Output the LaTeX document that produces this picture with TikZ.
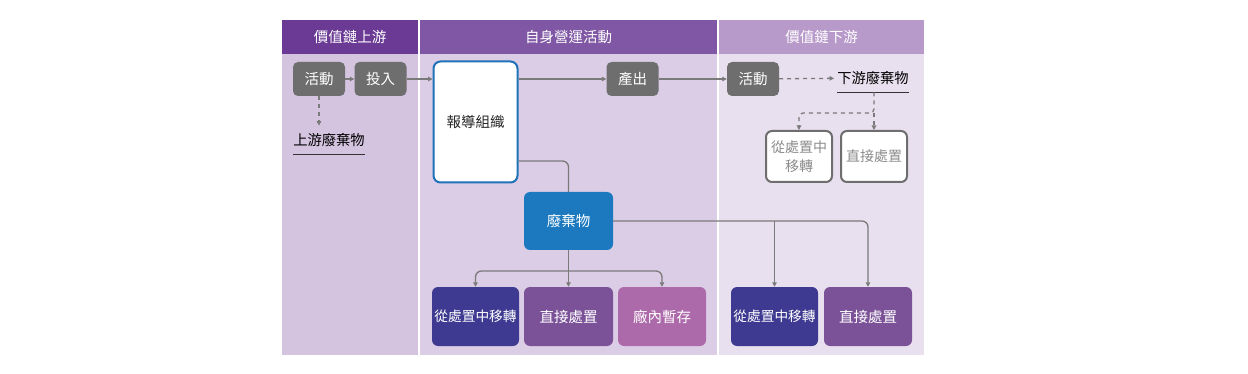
\documentclass[tikz,border=0pt]{standalone}
\usepackage{fontspec}
\setmainfont{Noto Sans CJK TC}
\usetikzlibrary{arrows.meta}
\definecolor{leftHead}{HTML}{6A3A95}
\definecolor{midHead}{HTML}{7F57A4}
\definecolor{rightHead}{HTML}{B89ACA}
\definecolor{leftBody}{HTML}{D4C4E0}
\definecolor{midBody}{HTML}{DBCDE5}
\definecolor{rightBody}{HTML}{E9E0EF}
\definecolor{boxGray}{HTML}{6E6E6E}
\definecolor{lineGray}{HTML}{7A7A7A}
\definecolor{outText}{HTML}{8C8C8C}
\definecolor{orgBlue}{HTML}{1F72B8}
\definecolor{wasteBlue}{HTML}{1C79BF}
\definecolor{transInd}{HTML}{3E3A91}
\definecolor{directPur}{HTML}{7B5298}
\definecolor{storePink}{HTML}{AD6AAA}

\begin{document}
\begin{tikzpicture}[x=1pt, y=-1pt,
    headtext/.style={text=white, font=\fontsize{14.5}{16}\selectfont},
    graybox/.style={fill=boxGray, text=white, rounded corners=5pt, minimum width=52pt, minimum height=34pt, inner sep=0pt, font=\fontsize{14.5}{16}\selectfont},
    outbox/.style={draw=boxGray, line width=2pt, fill=white, text=outText, rounded corners=6pt, minimum width=66pt, minimum height=51pt, inner sep=0pt, align=center, font=\fontsize{14}{19}\selectfont},
    solidbox/.style={rounded corners=6pt, text=white, minimum width=87pt, minimum height=59pt, inner sep=0pt, font=\fontsize{13.7}{16}\selectfont},
    wastetext/.style={inner xsep=0pt, inner ysep=7.5pt, font=\fontsize{14.3}{16}\selectfont},
    uline/.style={draw=black!80, line width=1.5pt},
    conn/.style={draw=lineGray, line width=1.3pt},
    arr/.style={conn, -{Triangle[length=4.5pt,width=4.5pt]}},
    dashline/.style={dash pattern=on 4pt off 4pt}]
    \useasboundingbox (0,0) rectangle (1248,374);

    \fill[leftBody] (282,54) rectangle (418,355);
    \fill[leftHead] (282,20) rectangle (418,54);
    \fill[midBody] (420,54) rectangle (717,355);
    \fill[midHead] (420,20) rectangle (717,54);
    \fill[rightBody] (719,54) rectangle (924,355);
    \fill[rightHead] (719,20) rectangle (924,54);

    \node[headtext] (hUp) at (350,37) {價值鏈上游};
    \node[headtext] (hOwn) at (568.5,37) {自身營運活動};
    \node[headtext] (hDown) at (821.5,37) {價值鏈下游};

    \node[graybox] (actUp) at (319,79) {活動};
    \node[graybox] (input) [right of=actUp, node distance=61.5pt] {投入};
    \node[wastetext] (upWaste) at (329,140) {上游廢棄物};

    \node[draw=orgBlue, line width=2pt, fill=white, text=black!85, rounded corners=7pt, minimum width=84pt, minimum height=121pt, font=\fontsize{14.5}{16}\selectfont] (org) at (475.5,122) {報導組織};
    \node[graybox] (output) at (632.5,79) {產出};
    \node[solidbox, fill=wasteBlue, minimum width=89pt, minimum height=58pt, font=\fontsize{14.5}{16}\selectfont] (waste) at (568.5,221) {廢棄物};
    \node[solidbox, fill=transInd] (ownTrans) at (475.5,316.5) {從處置中移轉};
    \node[solidbox, fill=directPur, minimum width=89pt, font=\fontsize{14.5}{16}\selectfont] (ownDirect) at (568.5,316.5) {直接處置};
    \node[solidbox, fill=storePink, minimum width=88pt, font=\fontsize{14.5}{16}\selectfont] (ownStore) at (662,316.5) {廠內暫存};

    \node[graybox] (actDown) at (753,79) {活動};
    \node[wastetext] (downWaste) at (873,78) {下游廢棄物};
    \node[outbox] (downTrans) at (799,156.5) {從處置中\\移轉};
    \node[outbox] (downDirect) at (874,156.5) {直接處置};
    \node[solidbox, fill=transInd] (valTrans) at (774.5,316.5) {從處置中移轉};
    \node[solidbox, fill=directPur, minimum width=88pt, font=\fontsize{14.5}{16}\selectfont] (valDirect) at (868,316.5) {直接處置};

    \coordinate (downSplit) at (874,113);
    \coordinate (wasteSplit) at (568.5,271);

    \draw[uline] (upWaste.south west) -- (upWaste.south east);
    \draw[uline] (downWaste.south west) -- (downWaste.south east);

    \draw[arr] (actUp) -- (input);
    \draw[arr] (input.east) -- (input.east -| org.west);
    \draw[arr] (org.east |- output) -- (output);
    \draw[arr] (output) -- (actDown);
    \draw[arr, dashline] (actUp.south) -- (actUp.south |- upWaste.north);
    \draw[arr, dashline, shorten >=3pt] (actDown) -- (downWaste);
    \draw[arr, dashline, rounded corners=4pt] (downWaste.south -| downSplit) -- (downSplit) -| (downTrans.north);
    \draw[arr, dashline] (downSplit) -- (downDirect.north);
    \draw[conn, rounded corners=6pt] ([yshift=-39pt]org.east) -| (waste.north);
    \draw[arr] (waste.south) -- (ownDirect.north);
    \draw[arr, rounded corners=6pt] (wasteSplit) -| (ownTrans.north);
    \draw[arr, rounded corners=6pt] (wasteSplit) -| (ownStore.north);
    \draw[arr, rounded corners=6pt] (waste.east) -| (valDirect.north);
    \draw[arr] (waste.east -| valTrans.north) -- (valTrans.north);
\end{tikzpicture}
\end{document}
